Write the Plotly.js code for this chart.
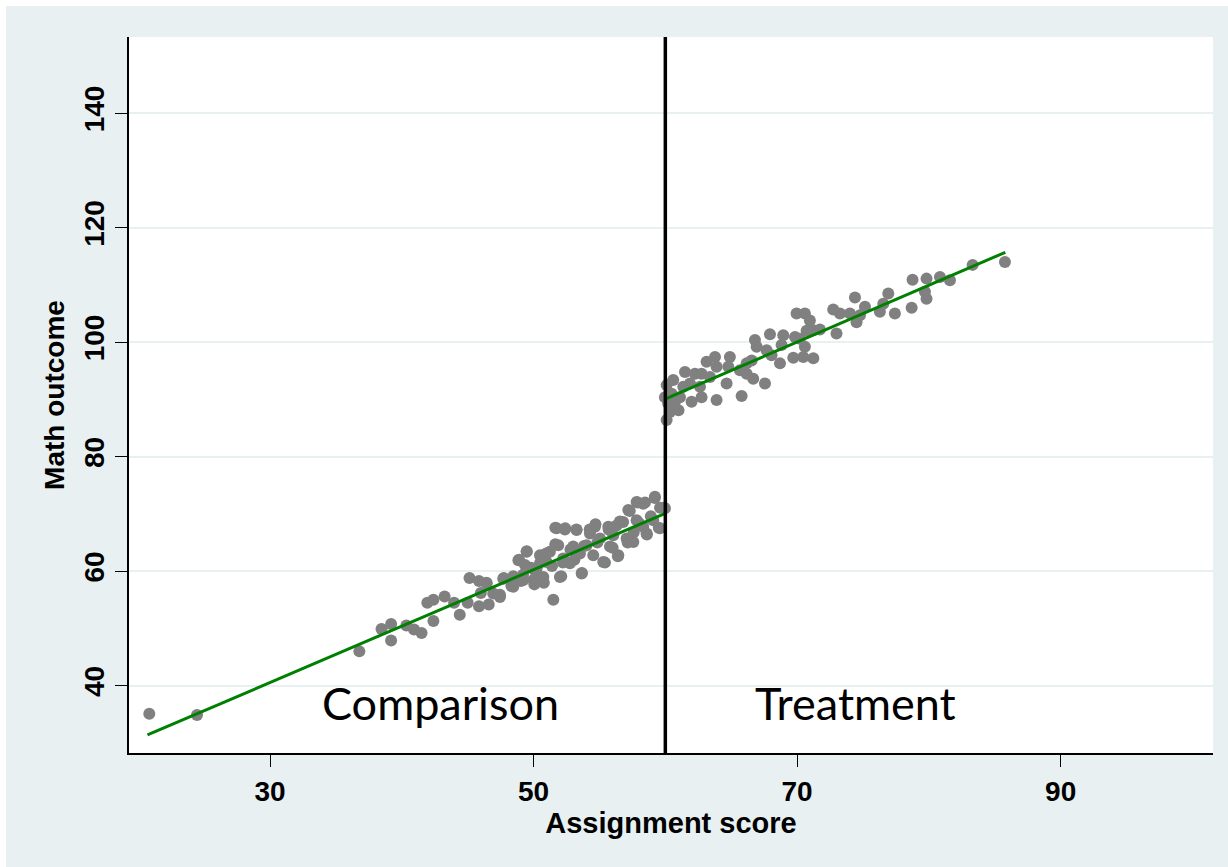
<!DOCTYPE html>
<html>
<head>
<meta charset="utf-8">
<script src="https://cdn.plot.ly/plotly-3.0.1.min.js"></script>
<style>
  html, body { margin: 0; padding: 0; background: #ffffff; }
  #chart { position: absolute; left: 6px; top: 6px; width: 1222px; height: 861px; }
</style>
</head>
<body>
<div id="chart"></div>
<script>
// ---- Data ----
const cutoff = 60;

const comparisonScore = [
  20.84, 24.46, 36.78, 38.46, 39.19, 39.19, 40.35, 40.93, 41.5, 41.94,
  42.4, 43.25, 42.4, 43.97, 44.4, 45.14, 45.0, 45.86, 46.43, 46.0,
  46.6, 45.86, 47.45, 47.74, 48.32, 48.46, 48.9, 49.48, 49.04, 50.06,
  50.78, 51.5, 51.65, 52.38, 53.25, 50.96, 51.65, 52.23, 52.1, 52.8,
  53.67, 53.83, 54.26, 54.7, 54.84, 55.42, 55.7, 56.0, 56.4, 56.55,
  57.3, 57.14, 57.6, 57.9, 58.46, 59.2, 58.9, 59.6, 59.9, 59.5,
  58.6, 58.0, 53.1, 50.5, 49.8, 49.2, 50.2, 51.4,
  53.65, 51.75, 52.4, 53.27, 51.87, 49.48, 48.85, 49.35, 50.49, 51.24,
  50.99, 50.23, 50.74, 49.98, 52.0, 52.76, 52.25, 48.46, 47.7, 46.44,
  46.94, 47.45, 49.22, 53.52, 54.02, 54.66, 54.28, 55.04, 54.53, 55.29,
  55.8, 55.67, 56.3, 56.8, 56.43, 56.05, 57.19, 57.06, 57.57, 57.82,
  57.82, 58.32, 59.21, 58.58, 59.59, 59.97, 59.08, 58.32, 53.01
];
const comparisonOutcome = [
  35.1, 34.9, 46.0, 49.9, 50.8, 47.9, 50.5, 49.8, 49.2, 54.5,
  55.0, 55.6, 51.3, 54.5, 52.4, 58.8, 54.5, 58.3, 58.0, 56.2,
  54.2, 53.9, 55.9, 58.8, 57.4, 59.1, 62.0, 63.5, 58.3, 57.7,
  58.0, 55.0, 67.6, 67.3, 67.3, 63.1, 64.7, 61.5, 59.1, 63.8,
  59.7, 64.4, 67.3, 68.2, 65.0, 61.5, 67.3, 64.1, 62.6, 68.7,
  70.5, 65.0, 66.8, 72.0, 72.0, 72.8, 69.6, 71.1, 71.1, 67.6,
  66.4, 68.4, 62.0, 61.5, 60.6, 59.4, 59.7, 60.9,
  59.6, 67.5, 67.5, 67.2, 64.55, 63.4, 61.9, 61.1, 62.8, 63.4,
  61.6, 60.5, 59.0, 58.45, 59.0, 61.4, 62.2, 57.3, 58.7, 57.9,
  56.1, 55.5, 58.45, 63.1, 64.55, 67.75, 66.6, 65.7, 62.8, 61.6,
  64.3, 67.75, 68.0, 68.6, 62.8, 66.3, 70.7, 65.7, 65.1, 68.9,
  72.1, 71.8, 73.0, 66.6, 67.5, 71.0, 68.9, 67.75, 64.3
];

const treatmentScore = [
  85.77, 83.32, 80.84, 81.6, 79.82, 78.76, 79.7, 79.82, 78.69, 76.92,
  76.54, 77.42, 76.28, 74.39, 75.15, 74.77, 74.51, 74.01, 72.74, 73.25,
  72.99, 71.73, 71.23, 70.72, 69.96, 70.59, 70.97, 70.21, 70.59, 71.23,
  70.47, 69.71, 69.84, 68.95, 67.94, 68.82, 68.7, 68.06, 66.8, 66.93,
  67.56, 67.69, 66.55, 66.17, 66.67, 65.79, 66.17, 65.66, 64.9, 64.78,
  64.65, 63.77, 63.89, 63.13, 63.89, 63.39, 62.75, 62.63, 62.75, 62.25,
  61.87, 61.49, 61.99, 61.36, 61.11, 61.0, 60.6, 60.48, 60.1, 59.97,
  60.22, 60.35, 60.1, 60.73
];
const treatmentOutcome = [
  114.0, 113.5, 111.4, 110.8, 111.1, 110.9, 108.8, 107.6, 106.0, 108.5,
  106.7, 105.0, 105.3, 107.8, 106.2, 104.7, 103.5, 105.0, 105.7, 105.0,
  101.5, 102.2, 102.1, 102.0, 105.0, 105.0, 103.8, 100.6, 99.2, 97.2,
  97.4, 97.3, 100.9, 101.2, 101.4, 99.5, 96.3, 97.7, 100.4, 99.2,
  92.8, 98.6, 96.8, 96.3, 93.6, 90.6, 94.5, 95.1, 97.4, 95.7,
  92.8, 97.4, 95.7, 96.6, 89.9, 93.9, 94.5, 92.2, 90.4, 94.5,
  92.8, 94.8, 89.6, 92.2, 90.4, 88.1, 93.4, 91.0, 92.5, 90.4,
  89.3, 87.8, 86.4, 89.6
];

const comparisonFitX = [20.7, 60.0];
const comparisonFitY = [31.4, 70.1];
const treatmentFitX = [60.1, 85.8];
const treatmentFitY = [90.2, 115.7];

const xTickVals = [30, 50, 70, 90];
const xTickText = ['30', '50', '70', '90'];
const yTickVals = [40, 60, 80, 100, 120, 140];
const yTickText = ['40', '60', '80', '100', '120', '140'];

const groupLabels = ['Comparison', 'Treatment'];
const groupLabelX = [42.97, 74.46];
const groupLabelY = [37.0, 37.0];

// ---- Traces ----
const dotStyle = { color: '#808080', size: 12, line: { width: 0 } };
const fitStyle = { color: '#008000', width: 3 };

const traces = [
  { type: 'scatter', mode: 'markers', x: comparisonScore, y: comparisonOutcome,
    marker: dotStyle, hoverinfo: 'x+y', showlegend: false },
  { type: 'scatter', mode: 'markers', x: treatmentScore, y: treatmentOutcome,
    marker: dotStyle, hoverinfo: 'x+y', showlegend: false },
  { type: 'scatter', mode: 'lines', x: comparisonFitX, y: comparisonFitY,
    line: fitStyle, hoverinfo: 'skip', showlegend: false },
  { type: 'scatter', mode: 'lines', x: treatmentFitX, y: treatmentFitY,
    line: fitStyle, hoverinfo: 'skip', showlegend: false }
];

const FAM = 'Liberation Sans, Arial, sans-serif';
const axisFont = { family: FAM, size: 28, color: '#000000', weight: 'bold' };

const layout = {
  width: 1222,
  height: 861,
  margin: { l: 123, r: 15, t: 31, b: 114, pad: 0 },
  paper_bgcolor: '#e8f0f2',
  plot_bgcolor: '#ffffff',
  showlegend: false,
  xaxis: {
    range: [19.3, 101.56],
    tickmode: 'array', tickvals: xTickVals, ticktext: xTickText,
    ticks: 'outside', ticklen: 12, tickwidth: 1, tickcolor: '#000000',
    showline: true, linecolor: '#000000', linewidth: 2,
    showgrid: false, zeroline: false,
    tickfont: axisFont,
    title: { text: 'Assignment score', font: { family: FAM, size: 29, color: '#000000', weight: 'bold' }, standoff: 4 }
  },
  yaxis: {
    range: [28.25, 153.3],
    tickmode: 'array', tickvals: yTickVals, ticktext: yTickText,
    tickangle: -90,
    ticks: 'outside', ticklen: 12, tickwidth: 1, tickcolor: '#000000',
    showline: true, linecolor: '#000000', linewidth: 2,
    showgrid: true, gridcolor: '#e8f0f2', gridwidth: 2, zeroline: false,
    tickfont: axisFont,
    title: { text: 'Math outcome', font: { family: FAM, size: 28, color: '#000000', weight: 'bold' }, standoff: 6 }
  },
  shapes: [
    { type: 'line', xref: 'x', yref: 'paper', x0: cutoff, x1: cutoff, y0: 0, y1: 1,
      line: { color: '#000000', width: 3.5 }, layer: 'above' }
  ],
  annotations: groupLabels.map((t, i) => ({
    x: groupLabelX[i], y: groupLabelY[i], xref: 'x', yref: 'y',
    text: t, showarrow: false, xanchor: 'center', yanchor: 'middle',
    font: { family: 'Lato, Carlito, sans-serif', size: 45, color: '#000000' }
  }))
};

Plotly.newPlot('chart', traces, layout, { staticPlot: true, displayModeBar: false });
</script>
</body>
</html>
